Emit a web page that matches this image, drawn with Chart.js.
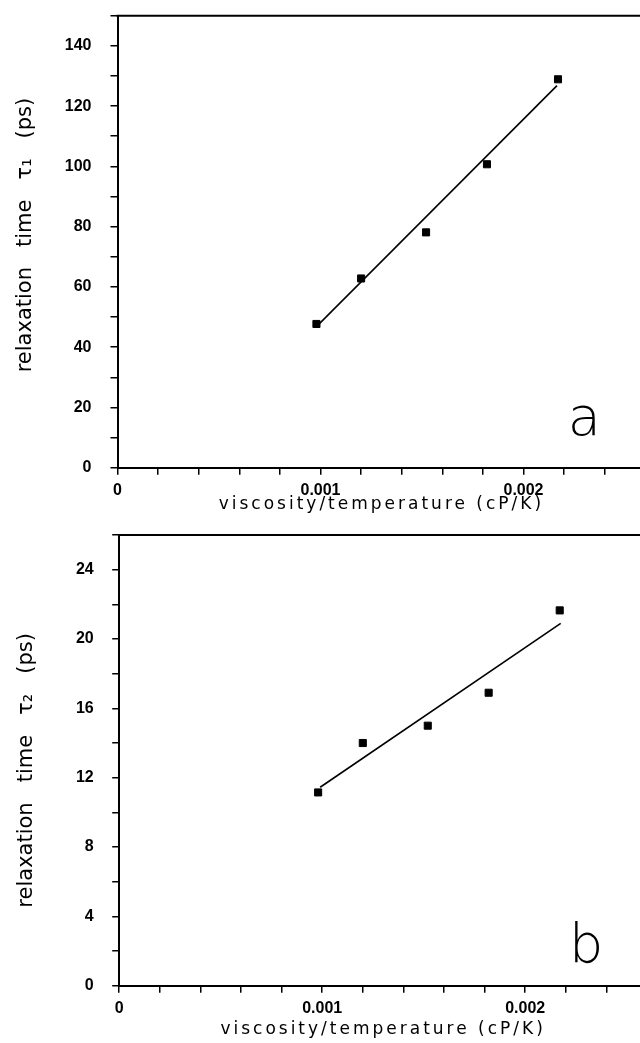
<!DOCTYPE html>
<html><head><meta charset="utf-8">
<script src="https://cdn.jsdelivr.net/npm/chart.js@4.4.1/dist/chart.umd.min.js"></script>
<style>
html,body{margin:0;padding:0;background:#fff;overflow:hidden;width:640px;height:1043px;position:relative;}
#pa{position:absolute;left:0;top:0;}
#pb{position:absolute;left:0;top:520px;}
</style></head><body>
<canvas id="pa" width="660" height="520"></canvas>
<canvas id="pb" width="660" height="523"></canvas>
<script>
// ---- data ----
const viscTemp = [0.00098, 0.00120, 0.00152, 0.00182, 0.00217];   // cP/K
const tau1 = [47.7, 62.8, 78.1, 100.7, 128.9];                    // ps (panel a)
const tau2 = [11.15, 14.0, 15.0, 16.9, 21.65];                    // ps (panel b)
const fitXA = [0.00098, 0.002165];
const fitA = [46.8, 126.8];
const fitXB = [0.00099, 0.002175];
const fitB = [11.45, 20.9];
const xMajorValues = [0, 0.001, 0.002];
const xTickLabels = ['0', '0.001', '0.002'];
const yMajorA = [0, 20, 40, 60, 80, 100, 120, 140];
const yTickLabelsA = ['0', '20', '40', '60', '80', '100', '120', '140'];
const yMajorB = [0, 4, 8, 12, 16, 20, 24];
const yTickLabelsB = ['0', '4', '8', '12', '16', '20', '24'];

function labelFor(v, majors, labels) {
  for (let i = 0; i < majors.length; i++) {
    if (Math.abs(v - majors[i]) < 1e-9) return labels[i];
  }
  return '';
}
function labelForY(v, majors, labels) {
  for (let i = 0; i < majors.length; i++) if (Math.abs(v - majors[i]) < 1e-6) return labels[i];
  return '';
}

const topBorder = {
  id: 'topBorder',
  afterDraw(chart) {
    const {ctx, chartArea: {left, right, top}} = chart;
    ctx.save();
    ctx.strokeStyle = '#000';
    ctx.lineWidth = 2;
    ctx.beginPath();
    ctx.moveTo(left - 1, top);
    ctx.lineTo(right, top);
    ctx.stroke();
    ctx.restore();
  }
};
const panelLabel = {
  id: 'panelLabel',
  afterDatasetsDraw(chart, args, opts) {
    const {ctx, scales: {x, y}} = chart;
    ctx.save();
    ctx.font = opts.font;
    ctx.fillStyle = '#000';
    ctx.textAlign = 'center';
    ctx.textBaseline = 'alphabetic';
    ctx.fillText(opts.text, x.getPixelForValue(opts.x), y.getPixelForValue(opts.y));
    ctx.restore();
  }
};
const spacedTitle = {
  id: 'spacedTitle',
  afterUpdate(chart, args, opts) {
    const s = chart.scales.x;
    if (s && !s._spacedPatched) {
      const orig = s.drawTitle;
      s.drawTitle = function () {
        this.ctx.save();
        this.ctx.letterSpacing = opts.spacing;
        orig.call(this);
        this.ctx.restore();
      };
      s._spacedPatched = true;
    }
  }
};

function makePanel(id, p) {
  const pts = viscTemp.map((x, i) => ({x: x, y: p.values[i]}));
  const fit = p.fitX.map((x, i) => ({x: x, y: p.fitY[i]}));
  return new Chart(document.getElementById(id), {
    type: 'scatter',
    data: {
      datasets: [
        {data: pts, pointStyle: 'rect', pointRadius: 5, backgroundColor: '#000', borderColor: '#000', borderWidth: 1, showLine: false},
        {data: fit, showLine: true, pointRadius: 0, borderColor: '#000', borderWidth: 1.6, fill: false, tension: 0}
      ]
    },
    plugins: [topBorder, panelLabel, spacedTitle],
    options: {
      responsive: false, animation: false, devicePixelRatio: 1,
      layout: {padding: {top: p.padTop, right: p.padRight, left: 0, bottom: 0}},
      plugins: {
        legend: {display: false}, tooltip: {enabled: false},
        panelLabel: {text: p.panel, x: p.panelX, y: p.panelY, font: '200 54px "DejaVu Sans"'},
        spacedTitle: {spacing: '3px'}
      },
      scales: {
        x: {
          type: 'linear', position: 'bottom', min: 0, max: 0.0026,
          afterFit: s => { s.height = p.xHeight; s.paddingLeft = 0; s.paddingRight = 0; },
          ticks: {stepSize: 0.0002, autoSkip: false, maxRotation: 0, minRotation: 0, padding: 6, color: '#000',
                  font: {family: 'Liberation Sans', size: 16, weight: 'bold'},
                  callback: v => labelFor(v, xMajorValues, xTickLabels)},
          grid: {drawOnChartArea: false, drawTicks: true, tickLength: 7, color: '#000', lineWidth: 1.5},
          border: {display: true, color: '#000', width: 2},
          title: {display: true, text: 'viscosity/temperature (cP/K)', color: '#000',
                  font: {family: 'DejaVu Sans', size: 17}, padding: {top: 0, bottom: p.xTitlePad}}
        },
        y: {
          type: 'linear', position: 'left', min: 0, max: p.yMax,
          afterFit: s => { s.width = p.yWidth; s.paddingTop = 0; s.paddingBottom = 0; },
          ticks: {stepSize: p.yStep, autoSkip: false, padding: p.yTickPad, color: '#000',
                  font: {family: 'Liberation Sans', size: 16, weight: 'bold'},
                  callback: v => labelForY(v, p.yMajor, p.yLabels)},
          grid: {drawOnChartArea: false, drawTicks: true, tickLength: 7, color: '#000', lineWidth: 1.5},
          border: {display: true, color: '#000', width: 2},
          title: {display: true, text: p.yTitle, color: '#000',
                  font: {family: 'DejaVu Sans', size: 21}, padding: {top: p.yTitlePad, bottom: 0}}
        }
      }
    }
  });
}

makePanel('pa', {
  values: tau1, fitX: fitXA, fitY: fitA, panel: 'a', panelX: 0.0023, panelY: 10.8,
  padTop: 15.7, padRight: 14.7, xHeight: 52.3, yWidth: 117.5, yMax: 150, yStep: 10,
  yMajor: yMajorA, yLabels: yTickLabelsA, yTickPad: 19, xTitlePad: 5.7, yTitlePad: 13,
  yTitle: '  relaxation   time   τ₁   (ps)'
});
makePanel('pb', {
  values: tau2, fitX: fitXB, fitY: fitB, panel: 'b', panelX: 0.0023, panelY: 1.37,
  padTop: 15, padRight: 13, xHeight: 57.3, yWidth: 119.2, yMax: 26, yStep: 2,
  yMajor: yMajorB, yLabels: yTickLabelsB, yTickPad: 18.5, xTitlePad: 3.7, yTitlePad: 14,
  yTitle: 'relaxation   time   τ₂   (ps)   '
});
</script>
</body></html>
